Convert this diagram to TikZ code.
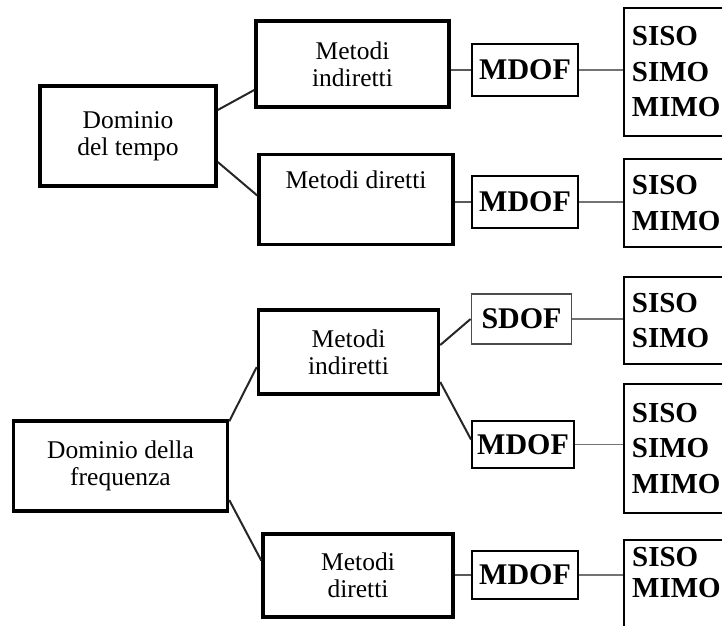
\documentclass[tikz,border=0pt]{standalone}
\usepackage{fontspec}
\setmainfont{Liberation Serif}
\usetikzlibrary{calc}

\tikzset{
	bigbox/.style={draw, line width=3.5pt, align=center, inner sep=0pt,
		font=\fontsize{25.5}{27}\selectfont},
	toplbl/.style={anchor=north, inner sep=0pt, yshift=-18pt,
		font=\fontsize{25.5}{27}\selectfont},
	dofbox/.style={draw, line width=2pt, inner sep=0pt,
		font=\fontsize{30}{34}\selectfont\bfseries},
	sdofbox/.style={dofbox, draw=black!70, line width=1.8pt},
	iobox/.style={draw, line width=1.8pt, anchor=west, align=left,
		text width=112pt, inner xsep=8pt, inner ysep=0pt,
		font=\fontsize{29}{35.5}\selectfont\bfseries},
	iolbl/.style={anchor=north west, align=left, inner sep=0pt,
		xshift=9pt, yshift=-8pt, font=\fontsize{29}{31}\selectfont\bfseries},
	dlink/.style={line width=2pt, draw=black!85},
	glink/.style={line width=2pt, draw=black!65},
	hlink/.style={line width=1.6pt, draw=black!55},
}

\begin{document}
\begin{tikzpicture}[x=1pt, y=-1pt]
			%%%%% START %%%%%
			\useasboundingbox (0,0) rectangle (722,625);
			\clip (0,0) rectangle (722,625);
			
			% dominio del tempo
			\node[bigbox, minimum width=176, minimum height=100] (tempo) at (128,136) {Dominio\\del tempo};
			\node[bigbox, minimum width=193, minimum height=86] (tind) at (352.5,64) {Metodi\\indiretti};
			\node[bigbox, minimum width=194, minimum height=90, label={[toplbl]north:Metodi diretti}] (tdir) at (356,199.5) {};
			
			\node[dofbox, minimum width=106, minimum height=52] (tmdofa) at (525,70) {MDOF};
			\node[dofbox, minimum width=106, minimum height=52] (tmdofb) at (525,202) {MDOF};
			
			\node[iobox, minimum height=128] (tioa) at (623,72) {SISO\\SIMO\\MIMO};
			\node[iobox, minimum height=88] (tiob) at (623,203) {SISO\\MIMO};
			
			\draw[dlink] ([yshift=26pt]tempo.east) -- ([yshift=-26pt]tind.west);
			\draw[dlink] ([yshift=-26pt]tempo.east) -- ([yshift=4pt]tdir.west);
			\draw[glink] (tind.east |- tmdofa.west) -- (tmdofa.west);
			\draw[glink] (tdir.east |- tmdofb.west) -- (tmdofb.west);
			\draw[hlink] (tmdofa.east) -- (tmdofa.east -| tioa.west);
			\draw[hlink] (tmdofb.east) -- (tmdofb.east -| tiob.west);
			
			% dominio della frequenza
			\node[bigbox, minimum width=214, minimum height=90] (freq) at (120.5,466) {Dominio della\\frequenza};
			\node[bigbox, minimum width=180, minimum height=84] (find) at (348.5,352) {Metodi\\indiretti};
			\node[bigbox, minimum width=190, minimum height=83] (fdir) at (358,575.5) {Metodi\\diretti};
			
			\node[sdofbox, minimum width=100, minimum height=50] (fsdof) at (521.5,319) {SDOF};
			\node[dofbox, minimum width=102, minimum height=47] (fmdofa) at (523,444.5) {MDOF};
			\node[dofbox, minimum width=106, minimum height=48] (fmdofb) at (525,575) {MDOF};
			
			\node[iobox, minimum height=87] (fioa) at (623,320.5) {SISO\\SIMO};
			\node[iobox, minimum height=129] (fiob) at (623,448.5) {SISO\\SIMO\\MIMO};
			\node[iobox, anchor=north west, minimum height=120, label={[iolbl]north west:{SISO\\MIMO}}] (fioc) at (623,539) {};
			
			\draw[dlink] ([yshift=-2pt]freq.north east) -- ([yshift=-15pt]find.west);
			\draw[dlink] ([yshift=-34pt]freq.east) -- ([yshift=15pt]fdir.west);
			\draw[dlink] ([yshift=7pt]find.east) -- (fsdof.west);
			\draw[dlink] ([yshift=-30pt]find.east) -- ([yshift=5pt]fmdofa.west);
			\draw[glink] (fdir.east |- fmdofb.west) -- (fmdofb.west);
			\draw[hlink] (fsdof.east) -- (fsdof.east -| fioa.west);
			\draw[hlink] (fmdofa.east) -- (fmdofa.east -| fiob.west);
			\draw[hlink] (fmdofb.east) -- (fmdofb.east -| fioc.west);
			%%%%% END %%%%%
\end{tikzpicture}
\end{document}
